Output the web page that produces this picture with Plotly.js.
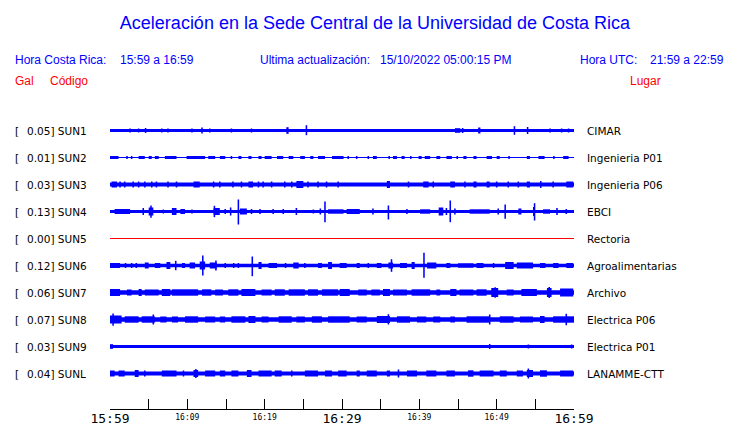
<!DOCTYPE html>
<html>
<head>
<meta charset="utf-8">
<script src="https://cdn.plot.ly/plotly-3.0.1.min.js"></script>
<style>html,body{margin:0;padding:0;background:#fff;}#chart{width:740px;height:423px;}</style>
</head>
<body>
<div id="chart"></div>
<script>
// ---- data (time in minutes after 15:59, amplitudes in trace units) ----
const stationCodes = ['SUN1','SUN2','SUN3','SUN4','SUN5','SUN6','SUN7','SUN8','SUN9','SUNL'];
const galValues = ['0.05','0.01','0.03','0.13','0.00','0.12','0.06','0.07','0.03','0.04'];
const places = ['CIMAR','Ingenieria P01','Ingenieria P06','EBCI','Rectoria','Agroalimentarias','Archivo','Electrica P06','Electrica P01','LANAMME-CTT'];
const baseAmp = [1.5,0.5,2,1.5,0,1.7,2.3,2.3,1.5,2];
const timeRange = [0,60];
const tickMinutes = [0,5,10,15,20,25,30,35,40,45,50,55,60];
const minorTickText = ['','','16:09','','16:19','','','','16:39','','16:49','',''];
const majorTickMinutes = [0,30,60];
const majorTickText = ['15:59','16:29','16:59'];

// events: [startMin, endMin, up, down(optional)]
const sun1Events = [[2.6,2.6,2],[3.7,3.7,2],[4.6,4.6,2.5],[6.7,6.7,2],[7.5,7.5,2],[10.6,10.6,2],[11.9,11.9,3],[12.9,12.9,2],[15.7,15.7,2],[18.3,18.3,2],[22.8,23.1,3.3],[25.4,25.4,5.3,4.7],[44.6,45.3,2.3],[45.6,45.6,2.5],[47.6,47.9,3],[52.2,52.4,4.3],[54.0,54.0,3.5],[56.9,56.9,2],[58.3,58.5,2],[59.2,59.4,2]];
const sun2Events = [[0,1.1,1.5],[2.2,2.2,1.5],[2.8,2.8,1.5],[3.7,4.5,1.5],[5.0,5.4,1.5],[5.8,6.3,1.5],[7.1,8.6,1.5],[9.9,12.3,1.5],[12.7,13.6,1.5],[14.2,14.9,1.5],[15.7,15.7,1.5],[16.6,17.0,1.5],[17.9,18.3,1.5],[19.2,19.6,1.5],[20.0,20.9,1.5],[21.6,22.4,1.5],[23.1,23.7,1.5],[24.6,25.2,1.5],[25.9,26.3,1.5],[26.9,27.8,1.5],[28.7,30.2,1.5],[30.8,30.8,1.5],[31.9,31.9,1.5],[33.4,33.4,1.5],[34.0,34.5,1.5],[36.0,36.2,1.5],[36.6,37.1,1.5],[37.7,38.1,1.5],[38.8,39.0,1.5],[39.9,40.3,1.5],[40.7,41.4,1.5],[42.2,42.7,1.5],[43.5,44.2,1.5],[44.8,45.0,1.5],[45.7,46.1,1.5],[47.0,47.4,1.5],[48.7,49.4,1.5],[50.0,50.4,1.5],[51.5,51.7,1.5],[53.9,54.3,1.5],[55.4,56.2,1.5],[57.3,57.5,1.5],[58.6,59.3,1.5]];
const sun3Events = [[0.2,0.9,3],[1.3,1.3,3],[1.9,1.9,3],[3.0,3.0,3],[3.7,3.7,3],[4.5,4.5,3],[5.4,5.4,3],[6.0,6.0,3],[7.5,7.5,3],[8.6,8.6,3],[10.8,11.6,3],[13.4,13.4,3],[14.2,14.2,3],[15.9,15.9,3],[17.0,17.0,3],[17.9,18.5,3],[19.2,19.2,3],[19.8,19.8,3],[20.9,20.9,3],[22.6,22.6,3],[23.5,23.5,3],[24.1,25.0,3.5],[25.6,25.6,3],[26.9,26.9,3],[28.0,28.0,3],[29.5,29.5,3],[35.8,36.2,3.5],[38.6,38.6,3],[40.5,41.2,3],[41.8,41.8,3],[44.0,44.6,3],[45.9,45.9,3],[47.0,47.4,3],[48.7,49.1,3],[50.0,50.0,3],[51.5,51.5,3],[52.8,52.8,3],[53.9,54.3,3],[55.6,55.8,3.5],[57.3,57.3,3],[59.0,59.9,3]];
const sun4Events = [[0.6,2.6,2.5],[4.3,4.3,3.5],[5.0,5.6,4],[5.3,5.3,6,6.3],[6.9,6.9,2],[8.0,8.6,3.5],[9.1,9.7,2.5],[10.6,10.6,2],[13.4,14.2,3.5],[13.5,13.5,5.7],[14.9,14.9,2.5],[15.5,15.7,4],[16.6,16.6,12,13],[16.8,17.7,3],[18.3,18.3,2.5],[19.4,19.4,2.5],[21.1,21.1,2.5],[22.4,22.4,2.5],[24.1,24.1,3.5],[26.3,26.3,2],[27.2,27.2,3],[27.8,27.8,10,10.7],[28.2,30.2,2.2],[30.6,32.3,2.5],[34.0,34.0,3],[36.0,36.0,6,8],[38.4,38.4,2.5],[40.1,41.4,2.2],[42.5,43.1,4],[43.5,43.5,3.5],[44.0,44.0,11,10.7],[44.6,44.6,3],[46.5,49.1,2.2],[50.2,50.2,3],[51.1,51.1,7,7.3],[52.8,53.2,3],[54.7,54.9,4.5],[54.9,54.9,8.3,9],[56.0,56.9,2.2],[57.8,57.8,3.5],[59.0,59.0,2.5]];
const sun5Events = [];
const sun6Events = [[0,1.3,2.5],[2.0,2.0,2.5],[2.8,2.8,2.5],[3.4,3.4,2.5],[4.5,5.0,3],[5.8,6.5,2.5],[7.3,7.8,3.5],[8.4,8.6,4.7],[9.3,9.7,2.5],[10.3,11.0,3],[11.6,12.3,4],[12.0,12.0,10,10],[12.9,13.8,3],[13.7,13.7,5],[14.9,14.9,2.5],[16.0,16.0,2.5],[16.6,16.6,2.5],[18.4,18.4,9,10.7],[19.2,19.6,3.5],[20.5,21.6,2.5],[22.6,22.8,2.5],[23.7,24.4,3],[25.2,25.2,2.5],[26.9,27.4,2.5],[28.2,28.7,3.5],[29.7,30.6,2.5],[31.9,32.3,2.5],[33.4,33.4,2.5],[34.5,35.1,2.5],[36.0,36.6,3],[36.4,36.4,6.3],[37.5,38.4,2.5],[39.0,39.4,3.5],[40.6,40.6,12.7,12.3],[41.0,42.2,3],[43.5,44.0,2.5],[45.0,47.0,2.2],[47.4,48.3,2.5],[49.6,49.6,2.5],[51.1,52.2,3.5],[52.6,54.7,3],[55.6,56.3,2.5],[57.3,58.0,2.5],[59.0,59.9,2.5]];
const sun7Events = [[0,1.3,3.5],[2.2,2.8,3],[3.7,4.1,3.5],[4.5,6.3,3],[6.7,7.8,3.5],[8.0,11.4,3.2],[11.9,13.1,3.2],[13.6,14.6,3],[15.3,16.6,3.2],[17.0,18.8,3.5],[19.6,20.9,3],[21.3,22.6,3.2],[23.1,25.2,3.2],[25.6,26.9,3.2],[27.4,29.5,3.2],[29.7,31.0,3.5],[32.1,33.2,3],[33.8,34.9,3],[35.3,36.2,3.5],[36.6,38.4,3],[39.0,41.4,3.2],[42.2,42.7,3],[44.0,44.8,3.5],[45.2,47.0,3],[47.4,48.7,3.2],[49.3,50.2,4.5],[49.8,49.8,5.3],[51.3,52.2,3],[53.2,55.2,3.5],[56.5,57.1,4.5],[56.8,56.8,5.5],[58.2,59.9,4]];
const sun8Events = [[0,1.5,4],[0.4,0.4,6,6.3],[1.9,3.7,3.2],[4.1,5.8,3.2],[5.6,5.6,5],[6.5,7.3,3],[8.0,8.8,3],[9.7,11.4,3.2],[12.3,13.6,3],[14.2,14.9,3],[15.7,17.5,3.2],[17.9,18.8,3.5],[19.6,20.5,3],[21.8,23.5,3.2],[24.1,25.2,3],[26.1,27.4,3.2],[28.2,31.0,3.2],[31.9,33.2,3],[34.5,36.2,3.5],[36.0,36.0,5.3,5],[37.1,38.8,3.2],[39.7,40.9,3],[41.8,42.7,3],[44.0,44.6,3],[46.1,49.1,3.2],[49.1,49.1,5],[50.4,52.2,3.2],[53.0,54.7,3],[55.6,56.2,3.5],[57.3,60,3.2],[59.0,59.0,5.7]];
const sun9Events = [[0,0.4,2.3],[49.1,49.1,2.5],[54.1,54.1,2],[59.7,59.7,2]];
const sunLEvents = [[0,0.6,3],[1.1,1.9,3],[3.2,3.7,3.5],[4.5,4.5,3],[6.7,8.6,3],[9.5,9.5,3],[10.8,11.4,3.5],[11.1,11.1,4.5],[12.3,13.6,3],[14.2,14.9,3],[15.7,16.6,3],[17.7,18.3,3.5],[19.2,20.9,3],[21.3,22.2,3],[23.5,23.5,3],[25.2,26.9,3],[27.8,28.7,3],[29.5,30.6,3],[31.9,32.3,3],[33.2,34.5,3],[35.8,36.2,3],[37.3,37.3,4],[38.4,39.7,3],[40.9,42.2,3],[43.5,44.6,3],[46.3,47.0,3.2],[47.8,49.6,3],[50.4,51.3,3],[52.6,53.4,3],[53.9,54.7,3.5],[54.1,54.1,5],[55.6,56.5,3.2],[58.2,59.9,3]];
const stationEvents = [sun1Events,sun2Events,sun3Events,sun4Events,sun5Events,sun6Events,sun7Events,sun8Events,sun9Events,sunLEvents];

// ---- layout helpers ----
const ROW = 27;              // vertical spacing between stations (axis units)
const MIN_W = 0.2;           // minimum drawn width of a spike (minutes)
const W = 740, H = 423;
const M = {l:110, r:166, t:100, b:14};
const plotW = W - M.l - M.r, plotH = H - M.t - M.b;
const px2x = p => (p - M.l) / plotW;
const py2y = p => (H - M.b - p) / plotH;
const centerOf = i => (stationCodes.length - 1 - i) * ROW;

const BLUE = '#0000ff', RED = '#ff0000';
const traces = [];
stationCodes.forEach((code, i) => {
  const c = centerOf(i);
  if (baseAmp[i] === 0 && stationEvents[i].length === 0) {
    traces.push({type:'scatter', mode:'lines', x: timeRange, y: [c, c], xaxis:'x2', yaxis:'y',
      line:{color:RED, width:1}, hoverinfo:'skip', showlegend:false});
    return;
  }
  const xs = [], ws = [], bs = [], hs = [];
  xs.push((timeRange[0] + timeRange[1]) / 2); ws.push(timeRange[1] - timeRange[0]);
  bs.push(c - baseAmp[i]); hs.push(2 * baseAmp[i]);
  stationEvents[i].forEach(ev => {
    const t0 = ev[0], t1 = ev[1], up = ev[2], dn = ev.length > 3 ? ev[3] : ev[2];
    const w = Math.max(t1 - t0, MIN_W);
    xs.push((t0 + t1) / 2); ws.push(w); bs.push(c - dn); hs.push(up + dn);
  });
  traces.push({type:'bar', x: xs, y: hs, base: bs, width: ws, orientation:'v',
    marker:{color:BLUE, line:{width:0}}, hoverinfo:'skip', showlegend:false});
});

const HF = 'Liberation Sans, Arial, sans-serif';
const ann = [];
const txt = (text, px, py, color) => ({text, x: px2x(px), y: py2y(py), xref:'paper', yref:'paper',
  xanchor:'left', yanchor:'middle', showarrow:false, borderpad:0,
  font:{family:HF, size:12, color: color || BLUE}});
ann.push(txt('Hora Costa Rica:', 13.5, 60.5));
ann.push(txt('15:59 a 16:59', 118.5, 60.5));
ann.push(txt('Ultima actualización:', 258.5, 60.5));
ann.push(txt('15/10/2022 05:00:15 PM', 379, 60.5));
ann.push(txt('Hora UTC:', 579, 60.5));
ann.push(txt('21:59 a 22:59', 649, 60.5));
ann.push(txt('Gal', 13.5, 80.5, RED));
ann.push(txt('Código', 48.5, 80.5, RED));
ann.push(txt('Lugar', 629, 80.5, RED));
const rowFont = {family:'DejaVu Sans, sans-serif', size:10.5, color:'#000'};
stationCodes.forEach((code, i) => {
  const c = centerOf(i);
  const base = {yref:'y', y: c, xref:'paper', xanchor:'left', yanchor:'middle', showarrow:false, borderpad:0, font:rowFont};
  ann.push(Object.assign({text:'[', x: px2x(13.5)}, base));
  ann.push(Object.assign({text: galValues[i] + '] ' + code, x: px2x(26)}, base));
  ann.push(Object.assign({text: places[i], x: px2x(585.5)}, base));
});

const layout = {
  width: W, height: H,
  margin: M,
  paper_bgcolor:'#fff', plot_bgcolor:'#fff',
  showlegend:false, barmode:'overlay',
  title: {text:'Aceleración en la Sede Central de la Universidad de Costa Rica',
    font:{family:HF, size:18, color:BLUE},
    x: 375/W, xref:'container', xanchor:'center', y: 1 - 22.5/H, yref:'container', yanchor:'middle'},
  xaxis: {range: timeRange, tickmode:'array', tickvals: tickMinutes, ticktext: minorTickText,
    ticks:'inside', ticklen:10, tickwidth:1, tickcolor:'#000', showline:true, linecolor:'#000', linewidth:1,
    showgrid:false, zeroline:false, fixedrange:true, automargin:false,
    tickfont:{family:'DejaVu Sans Mono, monospace', size:8, color:'#000'}},
  xaxis2: {range: timeRange, overlaying:'x', anchor:'y', side:'bottom', tickmode:'array',
    tickvals: majorTickMinutes, ticktext: majorTickText, ticks:'', showline:false, showgrid:false,
    zeroline:false, fixedrange:true, automargin:false, ticklabelstandoff:0,
    tickfont:{family:'DejaVu Sans Mono, monospace', size:13, color:'#000'}},
  yaxis: {range:[-35.5, 273.5], visible:false, fixedrange:true, showgrid:false, zeroline:false},
  annotations: ann
};
Plotly.newPlot('chart', traces, layout, {staticPlot:true, displayModeBar:false});
</script>
</body>
</html>
